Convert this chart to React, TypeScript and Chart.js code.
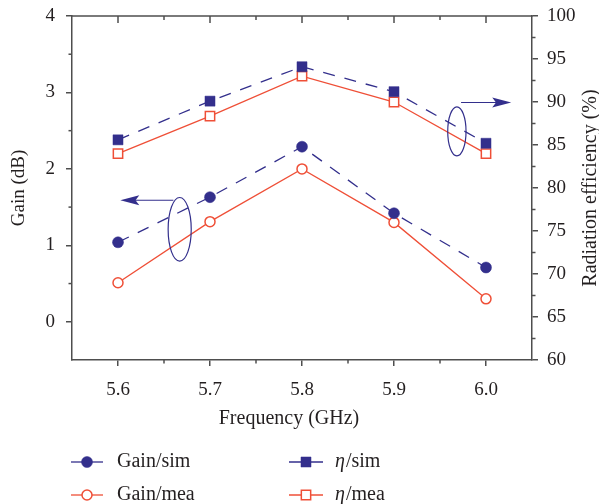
import React, { useEffect, useRef } from 'react';
import { Chart, registerables } from 'chart.js';

Chart.register(...registerables);

// ---- data ----
const FREQUENCIES = [5.6, 5.7, 5.8, 5.9, 6.0];
const GAIN_SIM = [1.04, 1.63, 2.29, 1.42, 0.71];
const GAIN_MEA = [0.51, 1.31, 2.0, 1.3, 0.3];
const ETA_SIM = [85.6, 90.1, 94.1, 91.2, 85.2];
const ETA_MEA = [84.0, 88.35, 93.0, 90.0, 84.0];

const X_TICKS = [5.6, 5.7, 5.8, 5.9, 6.0];
const X_MINOR = [5.65, 5.75, 5.85, 5.95];
const GAIN_TICKS = [0, 1, 2, 3, 4];
const GAIN_MINOR = [0.5, 1.5, 2.5, 3.5];
const ETA_TICKS = [60, 65, 70, 75, 80, 85, 90, 95, 100];
const ETA_MINOR = [62.5, 67.5, 72.5, 77.5, 82.5, 87.5, 92.5, 97.5];

// annotation anchors in data units
const GAIN_ELLIPSE = { x0: 5.6545, x1: 5.6796, y0: 0.793, y1: 1.626 };
const GAIN_ARROW = { from: 5.6602, to: 5.6025, y: 1.59 };
const ETA_ELLIPSE = { x0: 5.9584, x1: 5.9783, y0: 83.73, y1: 89.43 };
const ETA_ARROW = { from: 5.9729, to: 6.0274, y: 89.94 };

const BLUE = '#332f8c';
const RED = '#ef4f37';
const AXIS = '#4e4e4e';
const TEXT = '#231f20';
const FONT = "'Liberation Serif', 'Times New Roman', serif";

const decorPlugin = {
  id: 'decor',
  afterDraw(chart: any) {
    const { ctx, chartArea: a, scales } = chart;
    const xs = scales.x;
    const ys = scales.y;
    const y1 = scales.y1;
    const seg = (x0: number, yy0: number, x1: number, yy1: number) => {
      ctx.beginPath();
      ctx.moveTo(x0, yy0);
      ctx.lineTo(x1, yy1);
      ctx.stroke();
    };
    ctx.save();
    ctx.strokeStyle = AXIS;
    ctx.lineWidth = 1.5;
    ctx.lineCap = 'butt';
    // top frame
    seg(a.left - 0.75, a.top, a.right + 0.75, a.top);
    X_TICKS.forEach((v) => {
      const p = xs.getPixelForValue(v);
      seg(p, a.top, p, a.top + 7);
    });
    X_MINOR.forEach((v) => {
      const p = xs.getPixelForValue(v);
      seg(p, a.top, p, a.top + 4);
      seg(p, a.bottom, p, a.bottom + 3.5);
    });
    GAIN_MINOR.forEach((v) => {
      const p = ys.getPixelForValue(v);
      seg(a.left - 3.5, p, a.left, p);
    });
    ETA_MINOR.forEach((v) => {
      const p = y1.getPixelForValue(v);
      seg(a.right, p, a.right + 3.5, p);
    });

    // annotations
    ctx.strokeStyle = BLUE;
    ctx.fillStyle = BLUE;
    ctx.lineWidth = 1.2;
    const ellipse = (e: any, sc: any) => {
      const px0 = xs.getPixelForValue(e.x0);
      const px1 = xs.getPixelForValue(e.x1);
      const py0 = sc.getPixelForValue(e.y0);
      const py1 = sc.getPixelForValue(e.y1);
      ctx.beginPath();
      ctx.ellipse((px0 + px1) / 2, (py0 + py1) / 2, Math.abs(px1 - px0) / 2, Math.abs(py1 - py0) / 2, 0, 0, Math.PI * 2);
      ctx.stroke();
    };
    const arrow = (ar: any, sc: any) => {
      const pf = xs.getPixelForValue(ar.from);
      const pt = xs.getPixelForValue(ar.to);
      const py = sc.getPixelForValue(ar.y);
      const dir = Math.sign(pt - pf);
      const headLen = 19;
      const half = 5;
      seg(pf, py, pt - dir * headLen * 0.7, py);
      ctx.beginPath();
      ctx.moveTo(pt, py);
      ctx.lineTo(pt - dir * headLen, py - half);
      ctx.lineTo(pt - dir * headLen * 0.8, py);
      ctx.lineTo(pt - dir * headLen, py + half);
      ctx.closePath();
      ctx.fill();
    };
    ellipse(GAIN_ELLIPSE, ys);
    arrow(GAIN_ARROW, ys);
    ellipse(ETA_ELLIPSE, y1);
    arrow(ETA_ARROW, y1);

    // axis titles
    ctx.fillStyle = TEXT;
    ctx.font = `20px ${FONT}`;
    ctx.textAlign = 'center';
    ctx.textBaseline = 'middle';
    ctx.fillText('Frequency (GHz)', 289, 419);
    ctx.save();
    ctx.translate(591, (a.top + a.bottom) / 2);
    ctx.rotate(-Math.PI / 2);
    ctx.fillText('Radiation efficiency (%)', 0, 0);
    ctx.restore();

    // legend
    const cols = [
      { l0: 71, l1: 103, m: 87, t: 117 },
      { l0: 289, l1: 323, m: 306, t: 335 },
    ];
    const rows = [462, 495];
    const entries = [
      { ds: 0, col: 0, row: 0, italic: '', rest: 'Gain/sim' },
      { ds: 1, col: 0, row: 1, italic: '', rest: 'Gain/mea' },
      { ds: 2, col: 1, row: 0, italic: 'η', rest: '/sim' },
      { ds: 3, col: 1, row: 1, italic: 'η', rest: '/mea' },
    ];
    entries.forEach((en) => {
      const d = chart.data.datasets[en.ds];
      const c = cols[en.col];
      const yy = rows[en.row];
      ctx.strokeStyle = d.borderColor;
      ctx.lineWidth = d.borderWidth;
      ctx.setLineDash([]);
      seg(c.l0, yy, c.l1, yy);
      ctx.fillStyle = d.pointBackgroundColor;
      ctx.strokeStyle = d.pointBorderColor;
      ctx.lineWidth = d.pointBorderWidth;
      ctx.beginPath();
      if (d.pointStyle === 'rect') {
        const s = Math.SQRT1_2 * d.pointRadius;
        ctx.rect(c.m - s, yy - s, 2 * s, 2 * s);
      } else {
        ctx.arc(c.m, yy, d.pointRadius, 0, Math.PI * 2);
      }
      ctx.fill();
      ctx.stroke();
      ctx.fillStyle = TEXT;
      ctx.textAlign = 'left';
      ctx.textBaseline = 'middle';
      let tx = c.t;
      if (en.italic) {
        ctx.font = `italic 20px ${FONT}`;
        ctx.fillText(en.italic, tx, yy);
        tx += ctx.measureText(en.italic).width + 1;
      }
      ctx.font = `20px ${FONT}`;
      ctx.fillText(en.rest, tx, yy);
    });
    ctx.restore();
  },
};

const pts = (ys: number[]) => FREQUENCIES.map((x, i) => ({ x, y: ys[i] }));

const noPad = (s: any) => {
  s.paddingTop = 0;
  s.paddingBottom = 0;
};

export default function App() {
  const ref = useRef<HTMLCanvasElement | null>(null);
  useEffect(() => {
    if (!ref.current) return;
    const chart = new Chart(ref.current, {
      type: 'line',
      data: {
        datasets: [
          {
            label: 'Gain/sim',
            data: pts(GAIN_SIM),
            yAxisID: 'y',
            borderColor: BLUE,
            borderWidth: 1.3,
            borderDash: [12, 10],
            pointStyle: 'circle',
            pointRadius: 5.5,
            pointBackgroundColor: BLUE,
            pointBorderColor: BLUE,
            pointBorderWidth: 0.5,
          },
          {
            label: 'Gain/mea',
            data: pts(GAIN_MEA),
            yAxisID: 'y',
            borderColor: RED,
            borderWidth: 1.3,
            pointStyle: 'circle',
            pointRadius: 5,
            pointBackgroundColor: '#ffffff',
            pointBorderColor: RED,
            pointBorderWidth: 1.5,
          },
          {
            label: 'η/sim',
            data: pts(ETA_SIM),
            yAxisID: 'y1',
            borderColor: BLUE,
            borderWidth: 1.3,
            borderDash: [12, 10],
            pointStyle: 'rect',
            pointRadius: 7.1,
            pointBackgroundColor: BLUE,
            pointBorderColor: BLUE,
            pointBorderWidth: 0.5,
          },
          {
            label: 'η/mea',
            data: pts(ETA_MEA),
            yAxisID: 'y1',
            borderColor: RED,
            borderWidth: 1.3,
            pointStyle: 'rect',
            pointRadius: 6.6,
            pointBackgroundColor: '#ffffff',
            pointBorderColor: RED,
            pointBorderWidth: 1.5,
          },
        ],
      },
      options: {
        responsive: false,
        animation: false,
        devicePixelRatio: 1,
        layout: { padding: { top: 16, left: 0, right: 0, bottom: 104 } },
        plugins: { legend: { display: false }, tooltip: { enabled: false } },
        scales: {
          x: {
            type: 'linear',
            min: 5.55,
            max: 6.05,
            afterBuildTicks: (s: any) => {
              s.ticks = X_TICKS.map((v) => ({ value: v }));
            },
            afterFit: (s: any) => {
              s.height = 40;
              s.paddingLeft = 0;
              s.paddingRight = 0;
            },
            ticks: {
              callback: (v: any) => Number(v).toFixed(1),
              font: { family: FONT, size: 19 },
              color: TEXT,
              padding: 13,
              maxRotation: 0,
            },
            grid: { drawOnChartArea: false, tickLength: 6, color: AXIS, lineWidth: 1.5 },
            border: { color: AXIS, width: 1.5 },
          },
          y: {
            type: 'linear',
            position: 'left',
            min: -0.5,
            max: 4,
            afterBuildTicks: (s: any) => {
              s.ticks = GAIN_TICKS.map((v) => ({ value: v }));
            },
            afterFit: (s: any) => {
              s.width = 72;
              noPad(s);
            },
            ticks: {
              font: { family: FONT, size: 19 },
              color: TEXT,
              padding: 11,
            },
            title: {
              display: true,
              text: 'Gain (dB)',
              font: { family: FONT, size: 19 },
              color: TEXT,
              padding: { top: 8, bottom: 0 },
            },
            grid: { drawOnChartArea: false, tickLength: 6, color: AXIS, lineWidth: 1.5 },
            border: { color: AXIS, width: 1.5 },
          },
          y1: {
            type: 'linear',
            position: 'right',
            min: 60,
            max: 100,
            afterBuildTicks: (s: any) => {
              s.ticks = ETA_TICKS.map((v) => ({ value: v }));
            },
            afterFit: (s: any) => {
              s.width = 67;
              noPad(s);
            },
            ticks: {
              font: { family: FONT, size: 19 },
              color: TEXT,
              padding: 9,
            },
            grid: { drawOnChartArea: false, tickLength: 6, color: AXIS, lineWidth: 1.5 },
            border: { color: AXIS, width: 1.5 },
          },
        },
      },
      plugins: [decorPlugin],
    } as any);
    return () => chart.destroy();
  }, []);
  return (
    <div style={{ position: 'absolute', left: 0, top: 0, width: 599, height: 504, background: '#ffffff' }}>
      <canvas ref={ref} width={599} height={504} style={{ display: 'block' }} />
    </div>
  );
}
